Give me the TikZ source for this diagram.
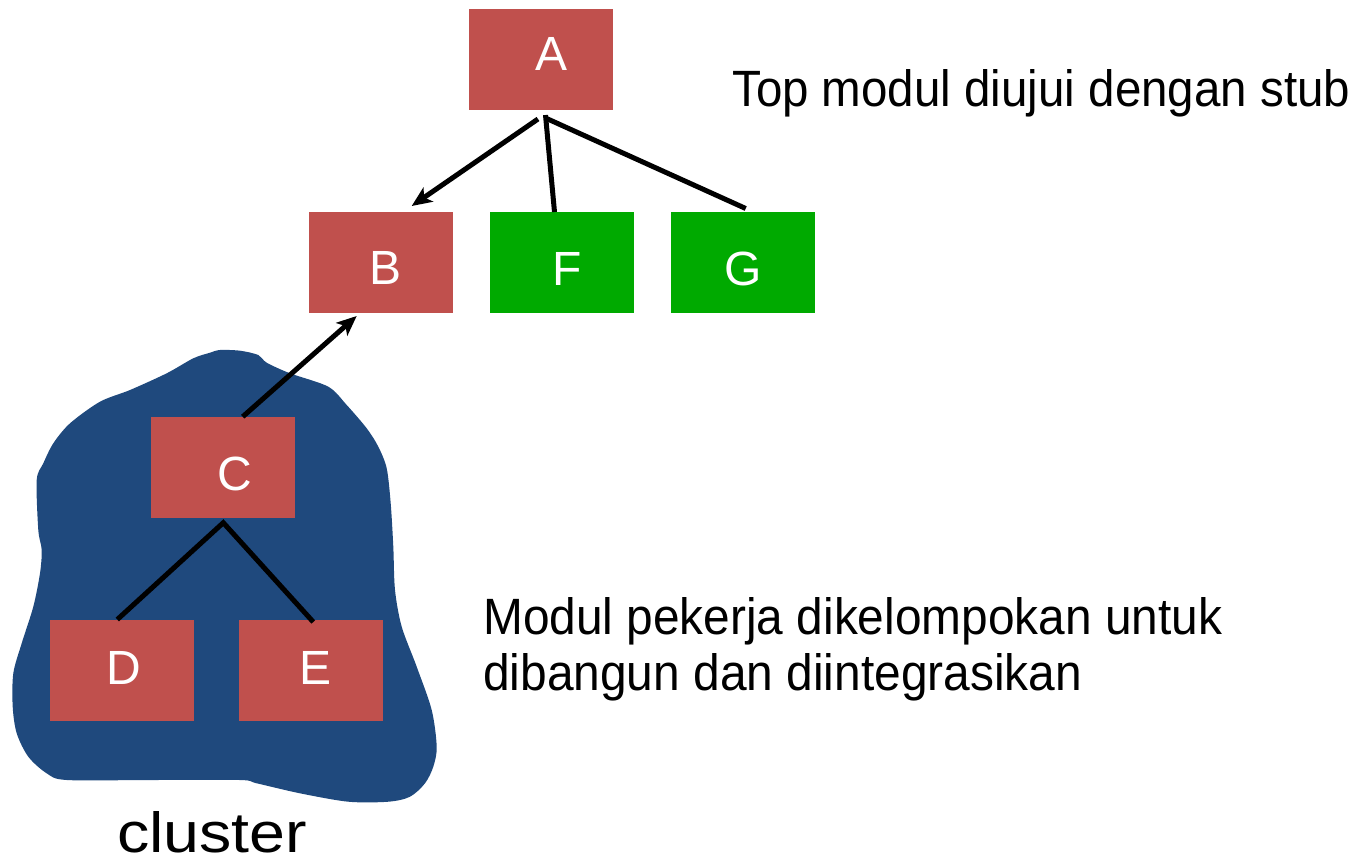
\documentclass[tikz,border=0pt]{standalone}
\usepackage{fontspec}
\setmainfont{Liberation Sans}
\usepackage{graphicx}
\usetikzlibrary{arrows.meta}
\definecolor{boxred}{HTML}{C0504D}
\definecolor{boxgreen}{HTML}{00AA00}
\definecolor{blobblue}{HTML}{1F497D}
\tikzset{
  redbox/.style={rectangle, fill=boxred, minimum width=144pt, minimum height=101pt, inner sep=0pt},
  greenbox/.style={rectangle, fill=boxgreen, minimum width=144pt, minimum height=101pt, inner sep=0pt},
  lab/.style={text=white, inner sep=0pt, font=\fontsize{48}{52}\selectfont},
  txt/.style={inner sep=0pt, anchor=base west},
  conn/.style={line width=5pt, black},
  arr/.style={conn, -{Stealth[length=20pt, width=17pt, inset=5pt]}}
}
\begin{document}
\begin{tikzpicture}[x=1pt, y=-1pt]
\useasboundingbox (0,0) rectangle (1359,860);
% cluster blob
\fill[blobblue] plot[smooth cycle, tension=0.5] coordinates {
(220,350) (240,350.7) (258.3,355) (266.7,362.7) (290,373.3) (328.3,386.7)
(346.7,405) (366.7,428.3) (378.3,446.7) (386.7,468.3) (390.7,503.3)
(393.3,546.7) (395,590) (401.7,626.7) (416.7,666.7) (431.7,710)
(436.7,746.7) (433.3,766.7) (425,783.3) (410,796.7) (388.3,801.7)
(348.3,801.7) (300,793.3) (256.7,783.3) (240,780) (150,780) (66.7,780)
(46.7,773.3) (28.3,756.7) (16.7,733.3) (12.7,706.7) (13.3,673.3)
(21.7,643.3) (33.3,606.7) (40,573.3) (41.7,550) (38.3,530) (36.7,480)
(43.3,463.3) (53.3,443.3) (70,423.3) (100,401.7) (130,390) (166.7,373.3)
(193.3,358.3) (210,352.7)};
% boxes
\node[redbox] (A) at (541,59.5) {};
\node[redbox] (B) at (381,262) {};
\node[greenbox] (F) at (562,262) {};
\node[greenbox] (G) at (743,262) {};
\node[redbox] (C) at (223,467.5) {};
\node[redbox] (D) at (122,670.5) {};
\node[redbox] (E) at (311,670.5) {};
% labels
\node[lab] (Al) at (551.5,53.5) {A};
\node[lab] (Bl) at (386,267.5) {B};
\node[lab] (Fl) at (567,268.5) {F};
\node[lab] (Gl) at (743.3,268.5) {G};
\node[lab] (Cl) at (235,474) {C};
\node[lab] (Dl) at (123.5,667.5) {D};
\node[lab] (El) at (316,667.5) {E};
% connector end points
\coordinate (Ao1) at (538,119);
\coordinate (Ao2) at (545.5,115);
\coordinate (Ao3) at (545.5,118);
\coordinate (Bi) at (411.7,206);
\coordinate (Fi) at (554.5,212);
\coordinate (Gi) at (745.7,208.5);
\coordinate (Co) at (242.7,416.7);
\coordinate (Bi2) at (356.7,316);
\coordinate (Cb) at (223.3,522.7);
\coordinate (Di) at (117.3,619.5);
\coordinate (Ei) at (313.3,622);
% connectors
\draw[arr] (Ao1) -- (Bi);
\draw[conn] (Ao2) -- (Fi);
\draw[conn] (Ao3) -- (Gi);
\draw[arr] (Co) -- (Bi2);
\draw[conn, line join=miter] (Di) -- (Cb) -- (Ei);
% texts
\node[txt] (t1) at (732,106.5) {\resizebox{618pt}{37pt}{Top modul diujui dengan stub}};
\node[txt] (t2) at (483,634) {\resizebox{739pt}{37pt}{Modul pekerja dikelompokan untuk}};
\node[txt] (t3) at (483,690) {\resizebox{599pt}{37pt}{dibangun dan diintegrasikan}};
\node[txt] (t4) at (117,852) {\resizebox{190pt}{41pt}{cluster}};
\end{tikzpicture}
\end{document}
